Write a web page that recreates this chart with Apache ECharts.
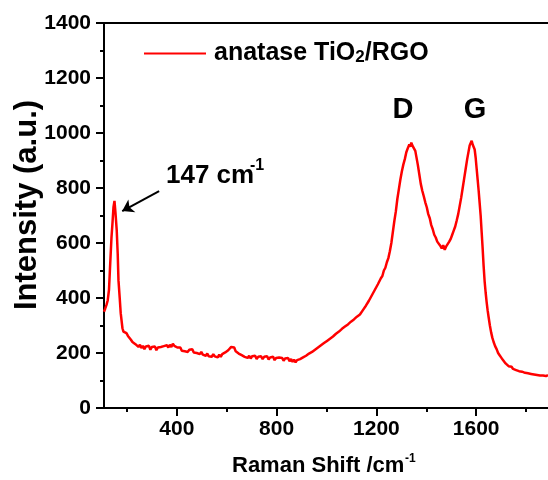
<!DOCTYPE html>
<html>
<head>
<meta charset="utf-8">
<script src="https://cdn.jsdelivr.net/npm/echarts@6/dist/echarts.min.js"></script>
<style>
  html, body { margin: 0; padding: 0; background: #fff; }
  #chart { width: 548px; height: 480px; }
</style>
</head>
<body>
<div id="chart"></div>
<script>
// [Raman shift (cm-1), intensity (a.u.)]
const spectrum = [
  [108, 350], [113, 362], [118, 375], [123, 392], [128, 430], [133, 527], [138, 620], [142, 672], [146, 730], [150, 753],
  [154, 710], [159, 647], [163, 560], [166, 465], [171, 400], [175, 345], [182, 290],
  [186, 278], [192, 285], [198, 272], [204, 262], [210, 255], [216, 248], [222, 240], [228, 246], [234, 232], [240, 236],
  [246, 222], [252, 230], [258, 218], [264, 226], [270, 214], [276, 224], [282, 218], [288, 226], [294, 212], [300, 222],
  [306, 216], [312, 224], [318, 210], [324, 220], [330, 214], [336, 222], [342, 215], [348, 225], [354, 218], [360, 228],
  [366, 220], [372, 230], [378, 222], [384, 234], [390, 226], [396, 230], [402, 220], [408, 214], [414, 220], [420, 208],
  [426, 214], [432, 206], [438, 213], [444, 204], [450, 212], [456, 206], [462, 214], [468, 202], [474, 208], [480, 200],
  [486, 206], [492, 196], [498, 204], [504, 194], [510, 200], [516, 190], [522, 198], [528, 188], [534, 194], [540, 186],
  [546, 196], [552, 188], [558, 192], [564, 184], [570, 194], [576, 186], [582, 196], [588, 192], [594, 202], [600, 198],
  [606, 210], [612, 214], [618, 222], [624, 216], [630, 220], [636, 206], [642, 210], [648, 198], [654, 202], [660, 192],
  [666, 196], [672, 186], [678, 192], [684, 182], [690, 190], [696, 180], [702, 188], [708, 182], [714, 190], [720, 178],
  [726, 186], [732, 180], [738, 188], [744, 178], [750, 186], [756, 180], [762, 188], [768, 176], [774, 184], [780, 178],
  [786, 186], [792, 174], [798, 182], [804, 176], [810, 184], [816, 178], [822, 182], [828, 172], [834, 180], [840, 176],
  [846, 182], [852, 170], [858, 178], [864, 168], [870, 176], [876, 166], [882, 174], [888, 170], [894, 178], [900, 174],
  [906, 184], [912, 180], [918, 190], [924, 188], [930, 198], [936, 194], [942, 204], [948, 202], [954, 212], [960, 208],
  [966, 220], [972, 216], [978, 228], [984, 224], [990, 236], [996, 232], [1002, 244], [1008, 240], [1014, 252], [1020, 250],
  [1026, 260], [1032, 258], [1038, 270], [1044, 266], [1050, 278], [1056, 276], [1062, 288], [1068, 284], [1074, 296], [1080, 292],
  [1086, 304], [1092, 302], [1098, 314], [1104, 310], [1110, 322], [1116, 320], [1122, 332], [1128, 330], [1134, 340], [1140, 342],
  [1146, 356], [1152, 360], [1158, 372], [1164, 376], [1170, 390], [1176, 396], [1182, 410], [1188, 414], [1194, 430], [1200, 434],
  [1206, 450], [1212, 456], [1218, 472], [1224, 480], [1230, 500], [1236, 510], [1242, 530], [1248, 545], [1254, 570], [1260, 600],
  [1266, 640], [1272, 680], [1278, 715], [1284, 760], [1290, 795], [1296, 830], [1302, 860], [1308, 885], [1314, 905], [1320, 930],
  [1326, 945], [1332, 958], [1336, 950], [1340, 965], [1344, 955], [1348, 962], [1352, 950], [1356, 935], [1360, 915], [1366, 885],
  [1372, 850], [1378, 815], [1384, 790], [1390, 770], [1396, 748], [1402, 730], [1408, 705], [1414, 690], [1420, 665], [1426, 650],
  [1432, 630], [1438, 620], [1444, 605], [1450, 598], [1456, 590], [1462, 580], [1468, 592], [1474, 575], [1480, 588], [1486, 592],
  [1492, 605], [1498, 615], [1504, 630], [1510, 645], [1516, 660], [1522, 682], [1528, 705], [1534, 735], [1540, 765], [1546, 800],
  [1552, 835], [1558, 870], [1564, 905], [1570, 935], [1574, 955], [1578, 962], [1582, 972], [1586, 958], [1590, 965], [1594, 940],
  [1598, 910], [1602, 870], [1606, 830], [1610, 790], [1614, 745], [1618, 700], [1622, 640], [1626, 580], [1630, 515], [1634, 460],
  [1638, 420], [1642, 385], [1646, 355], [1650, 330], [1655, 300], [1660, 275], [1665, 255], [1670, 240], [1676, 225], [1682, 214],
  [1688, 200], [1694, 192], [1700, 184], [1706, 176], [1712, 170], [1718, 162], [1724, 156], [1730, 152], [1736, 148], [1742, 150],
  [1748, 142], [1754, 144], [1760, 138], [1766, 142], [1772, 134], [1778, 138], [1784, 132], [1790, 134], [1796, 128], [1802, 132],
  [1808, 126], [1814, 130], [1820, 124], [1826, 128], [1832, 122], [1838, 126], [1844, 120], [1850, 124], [1856, 118], [1862, 124],
  [1868, 118], [1874, 122], [1880, 116], [1888, 120]
];

const xLabels = [400, 800, 1200, 1600];
const xMinor = [200, 600, 1000, 1400, 1800];

const font = 'Liberation Sans, Arial, sans-serif';
const chart = echarts.init(document.getElementById('chart'));

const option = {
  animation: false,
  grid: { left: 104, top: 23, right: 0, bottom: 72 },
  legend: {
    left: 139,
    top: 36,
    icon: 'rect',
    itemWidth: 62,
    itemHeight: 2,
    data: ['anatase TiO2/RGO'],
    formatter: () => '{a|anatase TiO}{s|2}{a|/RGO}',
    textStyle: {
      padding: [0, 0, 0, 3],
      rich: {
        a: { fontFamily: font, fontWeight: 'bold', fontSize: 25, color: '#000' },
        s: { fontFamily: font, fontWeight: 'bold', fontSize: 17, color: '#000', padding: [8, 0, 0, 0] }
      }
    }
  },
  xAxis: [
    {
      type: 'value', min: 108, max: 1888, position: 'bottom',
      splitLine: { show: false },
      axisLine: { lineStyle: { color: '#000', width: 2 } },
      axisTick: { customValues: xLabels, length: 8, lineStyle: { color: '#000', width: 2 } },
      axisLabel: {
        customValues: xLabels, margin: 11, formatter: v => String(v),
        color: '#000', fontFamily: font, fontWeight: 'bold', fontSize: 21
      }
    },
    {
      type: 'value', min: 108, max: 1888, position: 'bottom',
      splitLine: { show: false },
      axisLine: { show: false },
      axisTick: { customValues: xMinor, length: 4, lineStyle: { color: '#000', width: 2 } },
      axisLabel: { show: false }
    },
    {
      type: 'value', min: 108, max: 1888, position: 'top',
      splitLine: { show: false },
      axisLine: { lineStyle: { color: '#000', width: 2 } },
      axisTick: { show: false },
      axisLabel: { show: false }
    }
  ],
  yAxis: {
    type: 'value', min: 0, max: 1400, interval: 200,
    splitLine: { show: false },
    axisLine: { show: true, lineStyle: { color: '#000', width: 2 } },
    axisTick: { show: true, length: 8, lineStyle: { color: '#000', width: 2 } },
    minorTick: { show: true, splitNumber: 2, length: 4, lineStyle: { color: '#000', width: 2 } },
    axisLabel: { margin: 13, formatter: v => String(v), color: '#000', fontFamily: font, fontWeight: 'bold', fontSize: 21 }
  },
  series: [
    {
      name: 'anatase TiO2/RGO',
      type: 'line',
      data: spectrum,
      showSymbol: false,
      itemStyle: { color: '#ff0000' },
      lineStyle: { color: '#ff0000', width: 2.5 },
      markLine: {
        silent: true,
        symbol: ['none', 'arrow'],
        symbolSize: 11,
        label: { show: false },
        lineStyle: { color: '#000', width: 2, type: 'solid' },
        data: [[{ coord: [329, 789] }, { coord: [181, 716] }]]
      }
    }
  ],
  graphic: [
    {
      type: 'text', x: 27, y: 205, rotation: Math.PI / 2,
      style: { text: 'Intensity (a.u.)', fontFamily: font, fontWeight: 'bold', fontSize: 31, fill: '#000', align: 'center', verticalAlign: 'middle' }
    },
    {
      type: 'text', x: 232, y: 466,
      style: { text: 'Raman Shift /cm', fontFamily: font, fontWeight: 'bold', fontSize: 22, fill: '#000', align: 'left', verticalAlign: 'middle' }
    },
    {
      type: 'text', x: 405, y: 459,
      style: { text: '-1', fontFamily: font, fontWeight: 'bold', fontSize: 12, fill: '#000', align: 'left', verticalAlign: 'middle' }
    },
    {
      type: 'text', x: 166, y: 176,
      style: { text: '147 cm', fontFamily: font, fontWeight: 'bold', fontSize: 26, fill: '#000', align: 'left', verticalAlign: 'middle' }
    },
    {
      type: 'text', x: 250, y: 166,
      style: { text: '-1', fontFamily: font, fontWeight: 'bold', fontSize: 16, fill: '#000', align: 'left', verticalAlign: 'middle' }
    },
    {
      type: 'text', x: 403, y: 110,
      style: { text: 'D', fontFamily: font, fontWeight: 'bold', fontSize: 29, fill: '#000', align: 'center', verticalAlign: 'middle' }
    },
    {
      type: 'text', x: 475, y: 110,
      style: { text: 'G', fontFamily: font, fontWeight: 'bold', fontSize: 29, fill: '#000', align: 'center', verticalAlign: 'middle' }
    }
  ]
};

chart.setOption(option);
</script>
</body>
</html>
